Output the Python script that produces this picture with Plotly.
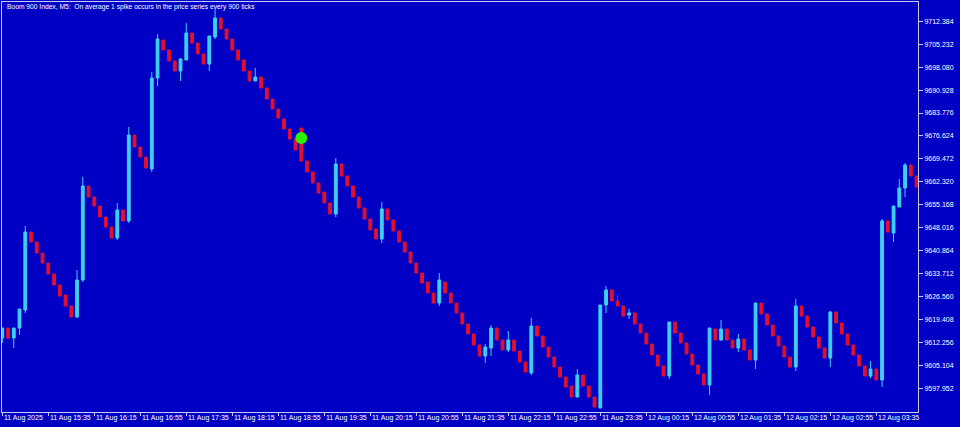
import plotly.graph_objects as go

# ---- data (Boom 900 Index, M5) ----
open_ = [9613.61, 9616.73, 9613.61, 9616.73, 9622.34, 9646.67, 9643.55, 9640.12, 9637.00, 9633.57,
         9630.14, 9627.02, 9623.59, 9620.16, 9631.70, 9661.02, 9657.59, 9654.78, 9651.35, 9648.23,
         9644.80, 9653.53, 9650.10, 9676.92, 9673.18, 9670.06, 9666.32, 9694.70, 9706.55, 9703.44,
         9700.00, 9696.89, 9700.32, 9708.74, 9705.62, 9702.19, 9699.07, 9707.49, 9713.42, 9709.99,
         9706.87, 9703.44, 9700.32, 9696.89, 9693.77, 9695.01, 9691.58, 9688.15, 9685.03, 9681.91,
         9678.80, 9675.68, 9679.11, 9668.81, 9665.38, 9661.95, 9659.15, 9655.71, 9652.28, 9667.88,
         9664.14, 9661.02, 9657.59, 9654.16, 9650.72, 9647.61, 9644.49, 9653.84, 9650.41, 9646.98,
         9643.55, 9640.43, 9637.00, 9633.88, 9631.07, 9627.64, 9624.52, 9631.07, 9627.64, 9624.52,
         9621.41, 9617.97, 9614.86, 9611.42, 9607.99, 9610.49, 9616.73, 9612.98, 9609.87, 9612.98,
         9609.55, 9606.12, 9602.69, 9617.35, 9614.23, 9610.80, 9607.68, 9604.56, 9601.44, 9598.64,
         9595.21, 9602.07, 9598.64, 9595.21, 9591.78, 9623.90, 9628.58, 9625.15, 9623.59, 9620.78,
         9621.41, 9617.97, 9615.17, 9611.74, 9608.31, 9604.87, 9601.76, 9618.60, 9615.17, 9612.05,
         9608.62, 9605.19, 9602.38, 9598.95, 9616.42, 9612.98, 9616.42, 9612.98, 9610.49, 9613.30,
         9609.87, 9606.75, 9624.52, 9621.09, 9617.66, 9614.23, 9611.11, 9607.68, 9604.56, 9623.59,
         9620.47, 9617.04, 9613.92, 9610.49, 9607.37, 9621.72, 9618.29, 9614.86, 9611.42, 9608.31,
         9604.87, 9601.76, 9603.94, 9600.51, 9650.10, 9646.36, 9654.47, 9660.39, 9667.57, 9664.14]

high_ = [9616.73, 9616.73, 9616.73, 9622.65, 9648.54, 9646.67, 9643.55, 9640.12, 9637.00, 9633.57,
         9630.14, 9627.02, 9623.59, 9634.82, 9663.82, 9661.02, 9657.59, 9654.78, 9651.35, 9648.23,
         9655.71, 9653.53, 9679.42, 9676.92, 9673.18, 9670.06, 9696.57, 9708.43, 9706.55, 9703.44,
         9700.00, 9700.94, 9711.86, 9708.74, 9705.62, 9702.19, 9707.80, 9716.22, 9713.42, 9709.99,
         9706.87, 9703.44, 9700.32, 9696.89, 9697.82, 9695.01, 9691.58, 9688.15, 9685.03, 9681.91,
         9678.80, 9675.68, 9679.11, 9668.81, 9665.38, 9661.95, 9659.15, 9655.71, 9669.75, 9667.88,
         9664.14, 9661.02, 9657.59, 9654.16, 9650.72, 9647.61, 9656.03, 9653.84, 9650.41, 9646.98,
         9643.55, 9640.43, 9637.00, 9633.88, 9631.07, 9627.64, 9633.88, 9631.07, 9627.64, 9624.52,
         9621.41, 9617.97, 9614.86, 9611.42, 9611.74, 9617.66, 9616.73, 9612.98, 9615.79, 9612.98,
         9609.55, 9606.12, 9619.85, 9617.35, 9614.23, 9610.80, 9607.68, 9604.56, 9601.44, 9598.64,
         9603.94, 9602.07, 9598.64, 9595.21, 9623.90, 9629.83, 9628.58, 9627.02, 9623.59, 9622.65,
         9621.41, 9617.97, 9615.17, 9611.74, 9608.31, 9604.87, 9618.60, 9618.60, 9615.17, 9612.05,
         9608.62, 9605.19, 9602.38, 9616.73, 9616.42, 9619.22, 9616.42, 9612.98, 9614.86, 9613.30,
         9609.87, 9624.52, 9624.52, 9621.09, 9617.66, 9614.23, 9611.11, 9607.68, 9625.77, 9623.59,
         9620.47, 9617.04, 9613.92, 9610.49, 9622.03, 9621.72, 9618.29, 9614.86, 9611.42, 9608.31,
         9604.87, 9606.43, 9603.94, 9650.72, 9650.10, 9654.78, 9663.20, 9668.19, 9667.57, 9664.14]

low_ = [9612.05, 9613.61, 9610.49, 9614.54, 9621.41, 9643.55, 9640.12, 9637.00, 9633.57, 9630.14,
        9626.71, 9623.59, 9620.16, 9619.85, 9631.07, 9657.59, 9654.78, 9651.35, 9648.23, 9644.80,
        9644.17, 9650.10, 9649.48, 9673.18, 9670.06, 9666.63, 9665.38, 9692.21, 9703.44, 9700.00,
        9696.89, 9693.77, 9700.32, 9705.62, 9702.19, 9699.07, 9696.89, 9706.87, 9709.99, 9706.87,
        9703.44, 9700.32, 9696.89, 9693.77, 9693.77, 9691.58, 9688.15, 9685.03, 9682.23, 9678.80,
        9675.68, 9672.25, 9668.81, 9665.38, 9661.95, 9658.83, 9655.71, 9652.28, 9651.35, 9664.14,
        9661.02, 9657.59, 9654.16, 9650.72, 9647.29, 9644.49, 9643.24, 9650.41, 9646.98, 9643.55,
        9640.43, 9637.00, 9633.88, 9630.76, 9627.64, 9624.52, 9623.59, 9627.64, 9624.52, 9621.41,
        9617.97, 9614.86, 9611.42, 9607.99, 9605.81, 9607.99, 9612.98, 9609.87, 9609.24, 9609.55,
        9606.12, 9603.00, 9602.07, 9614.23, 9610.80, 9607.68, 9604.56, 9601.44, 9598.33, 9595.21,
        9595.21, 9598.64, 9595.21, 9592.09, 9591.78, 9621.41, 9625.15, 9623.59, 9620.47, 9619.53,
        9617.97, 9615.17, 9611.74, 9608.31, 9604.87, 9601.76, 9600.82, 9615.17, 9612.05, 9608.62,
        9605.19, 9602.38, 9598.95, 9595.83, 9612.98, 9612.67, 9612.98, 9610.49, 9609.24, 9609.87,
        9606.75, 9603.94, 9621.09, 9617.66, 9614.23, 9611.11, 9607.68, 9604.56, 9603.32, 9620.47,
        9617.04, 9613.92, 9610.49, 9607.37, 9604.56, 9618.29, 9614.86, 9611.42, 9608.31, 9604.87,
        9601.76, 9601.13, 9600.51, 9598.33, 9646.67, 9643.55, 9654.47, 9657.59, 9664.14, 9660.71]

close_ = [9616.73, 9613.61, 9616.73, 9622.65, 9646.67, 9643.55, 9640.12, 9637.00, 9633.57, 9630.14,
          9626.71, 9623.59, 9620.16, 9631.70, 9661.02, 9657.59, 9654.78, 9651.35, 9648.23, 9644.80,
          9653.53, 9650.10, 9676.92, 9673.18, 9670.06, 9666.63, 9694.70, 9706.87, 9703.44, 9700.00,
          9696.89, 9700.63, 9708.74, 9705.62, 9702.19, 9699.07, 9707.80, 9713.42, 9709.99, 9706.87,
          9703.44, 9700.32, 9696.89, 9693.77, 9695.01, 9691.58, 9688.15, 9685.03, 9682.23, 9678.80,
          9675.68, 9672.25, 9668.81, 9665.38, 9661.95, 9658.83, 9655.71, 9652.28, 9667.88, 9664.14,
          9661.02, 9657.59, 9654.16, 9650.72, 9647.29, 9644.49, 9653.84, 9650.41, 9646.98, 9643.55,
          9640.43, 9637.00, 9633.88, 9630.76, 9627.64, 9624.52, 9631.70, 9627.64, 9624.52, 9621.41,
          9617.97, 9614.86, 9611.42, 9607.99, 9610.80, 9616.73, 9612.98, 9609.87, 9612.98, 9609.55,
          9606.12, 9603.00, 9617.35, 9614.23, 9610.80, 9607.68, 9604.56, 9601.44, 9598.33, 9595.21,
          9602.07, 9598.64, 9595.21, 9592.09, 9623.90, 9628.58, 9625.15, 9623.59, 9620.47, 9621.41,
          9617.97, 9615.17, 9611.74, 9608.31, 9604.87, 9601.76, 9618.60, 9615.17, 9612.05, 9608.62,
          9605.19, 9602.38, 9598.95, 9616.73, 9612.98, 9616.42, 9612.98, 9610.49, 9613.30, 9609.87,
          9606.75, 9624.52, 9621.09, 9617.66, 9614.23, 9611.11, 9607.68, 9604.56, 9623.59, 9620.47,
          9617.04, 9613.92, 9610.49, 9607.37, 9621.72, 9618.29, 9614.86, 9611.42, 9608.31, 9604.87,
          9601.76, 9603.94, 9600.51, 9650.10, 9646.67, 9654.78, 9660.39, 9667.57, 9664.14, 9660.71]

bar_index = list(range(len(open_)))

time_tick_bars = [0, 8, 16, 24, 32, 40, 48, 56, 64, 72, 80, 88, 96, 104, 112, 120, 128, 136, 144, 152]
time_tick_labels = ["11 Aug 2025", "11 Aug 15:35", "11 Aug 16:15", "11 Aug 16:55", "11 Aug 17:35",
                    "11 Aug 18:15", "11 Aug 18:55", "11 Aug 19:35", "11 Aug 20:15", "11 Aug 20:55",
                    "11 Aug 21:35", "11 Aug 22:15", "11 Aug 22:55", "11 Aug 23:35", "12 Aug 00:15",
                    "12 Aug 00:55", "12 Aug 01:35", "12 Aug 02:15", "12 Aug 02:55", "12 Aug 03:35"]

price_ticks = [9712.384, 9705.232, 9698.080, 9690.928, 9683.776, 9676.624, 9669.472, 9662.320,
               9655.168, 9648.016, 9640.864, 9633.712, 9626.560, 9619.408, 9612.256, 9605.104, 9597.952]
price_tick_labels = ["%.3f" % v for v in price_ticks]

signal_bar = [52]
signal_price = [9675.99]

title_text = "Boom 900 Index, M5:  On average 1 spike occurs in the price series every 900 ticks"

# ---- styling ----
BG = "#0000C4"
BULL = "#3ED0F2"
BEAR = "#E3102C"
FRAME = "#C8C8F0"
TEXT = "#FFFFFF"
FONT = "Liberation Sans"

fig = go.Figure()
fig.add_trace(go.Candlestick(
    x=bar_index, open=open_, high=high_, low=low_, close=close_,
    increasing=dict(line=dict(color=BULL, width=1), fillcolor=BULL),
    decreasing=dict(line=dict(color=BEAR, width=1), fillcolor=BEAR),
    whiskerwidth=0, showlegend=False, hoverinfo="skip",
))
fig.add_trace(go.Scatter(
    x=signal_bar, y=signal_price, mode="markers",
    marker=dict(color="#2BF000", size=12, line=dict(width=0)),
    showlegend=False, hoverinfo="skip",
))

annotations = [dict(text=title_text, xref="paper", yref="paper", x=0.003, y=0.988,
                    xanchor="left", yanchor="middle", showarrow=False,
                    font=dict(family=FONT, size=6.7, color=TEXT))]
for b, lab in zip(time_tick_bars, time_tick_labels):
    annotations.append(dict(text=lab, xref="x", yref="paper", x=b, y=-0.0135,
                            xanchor="left", yanchor="middle", xshift=0, showarrow=False,
                            font=dict(family=FONT, size=7, color=TEXT)))

fig.update_layout(
    width=960, height=427,
    margin=dict(l=2, r=42, t=2, b=15, autoexpand=False),
    paper_bgcolor=BG, plot_bgcolor=BG,
    boxgap=0.3,
    annotations=annotations,
    xaxis=dict(range=[-0.05, 159.25], showgrid=False, zeroline=False,
               rangeslider=dict(visible=False),
               tickmode="array", tickvals=time_tick_bars, ticktext=[""] * len(time_tick_bars),
               showticklabels=False, ticks="outside", ticklen=3, tickcolor=FRAME, tickwidth=1,
               showline=True, linecolor=FRAME, linewidth=1, mirror=True),
    yaxis=dict(range=[9590.53, 9718.41], side="right", showgrid=False, zeroline=False,
               tickmode="array", tickvals=price_ticks, ticktext=price_tick_labels,
               ticks="outside", ticklen=4, tickcolor=FRAME, tickwidth=1,
               tickfont=dict(family=FONT, size=7, color=TEXT),
               showline=True, linecolor=FRAME, linewidth=1, mirror=True),
)

fig.write_html("out.html", config={"displayModeBar": False},
               post_script="document.body.style.margin='0px';document.body.style.background='%s';" % BG)
